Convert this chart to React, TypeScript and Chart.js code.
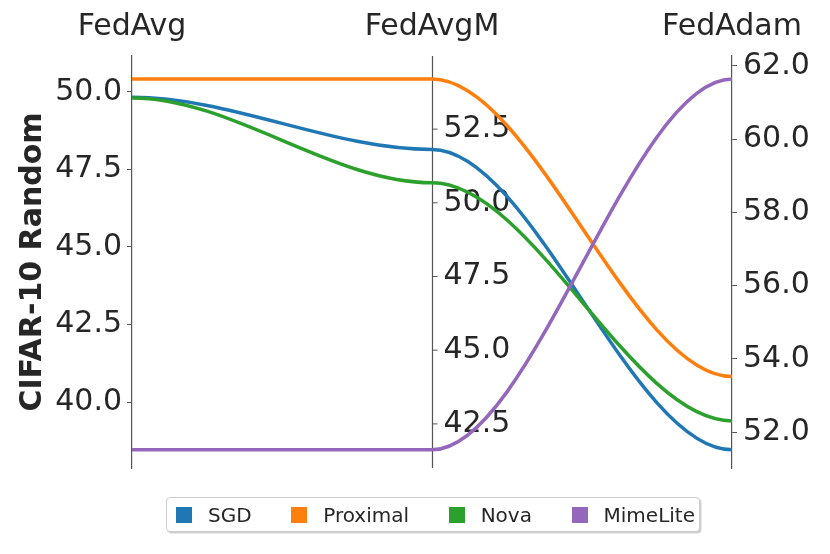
import React, { useEffect, useRef } from 'react';
import { Chart, registerables } from 'chart.js';

Chart.register(...registerables);

// ---- data ----
const axisNames = ['FedAvg', 'FedAvgM', 'FedAdam'];
const seriesNames = ['SGD', 'Proximal', 'Nova', 'MimeLite'];
const seriesColors = ['#1f77b4', '#ff7f0e', '#2ca02c', '#9467bd'];
const sgd = [49.82, 51.81, 51.52];
const proximal = [50.41, 54.2, 53.52];
const nova = [49.8, 50.68, 52.31];
const mimeLite = [38.46, 41.62, 61.64];
const tickSteps = [2.5, 2.5, 2.0];
const yLabel = 'CIFAR-10 Random';

const series = [sgd, proximal, nova, mimeLite];

// margins of each axis around its data range (fraction of range)
const PAD_LO = 0.049;
const PAD_HI = 0.062;

const FONT = '"DejaVu Sans", "Liberation Sans", sans-serif';
const TEXT_COLOR = '#262626';
const AXIS_COLOR = '#555555';

const axisMin = axisNames.map((_, k) => Math.min(...series.map((s) => s[k])));
const axisMax = axisNames.map((_, k) => Math.max(...series.map((s) => s[k])));
const axisRange = (k: number) => {
  const r = axisMax[k] - axisMin[k];
  return { min: axisMin[k] - PAD_LO * r, max: axisMax[k] + PAD_HI * r };
};
const norm = (v: number, k: number) => (v - axisMin[k]) / (axisMax[k] - axisMin[k]);

const stepTicks = (step: number) => (scale: any) => {
  const ticks: { value: number }[] = [];
  const start = Math.ceil(scale.min / step - 1e-9) * step;
  for (let v = start; v <= scale.max + 1e-9; v += step) {
    ticks.push({ value: +v.toFixed(6) });
  }
  scale.ticks = ticks;
};

const middleAxisPlugin = {
  id: 'middleAxis',
  beforeDatasetsDraw(chart: any) {
    const { ctx, chartArea } = chart;
    const s = chart.scales.yFedAvgM;
    const x = Math.round(chart.scales.x.getPixelForValue(1)) + 0.5;
    ctx.save();
    ctx.strokeStyle = AXIS_COLOR;
    ctx.lineWidth = 1.2;
    ctx.beginPath();
    ctx.moveTo(x, chartArea.top);
    ctx.lineTo(x, chartArea.bottom);
    ctx.stroke();
    ctx.lineWidth = 1;
    ctx.font = `30px ${FONT}`;
    ctx.fillStyle = TEXT_COLOR;
    ctx.textAlign = 'left';
    ctx.textBaseline = 'middle';
    for (const t of s.ticks) {
      const y = s.getPixelForValue(t.value);
      ctx.beginPath();
      ctx.moveTo(x, y);
      ctx.lineTo(x + 5, y);
      ctx.stroke();
      ctx.fillText(t.label, x + 11, y);
    }
    ctx.restore();
  },
};

// horizontal tangents at every axis (S-shaped links)
const parallelCurvePlugin = {
  id: 'parallelCurves',
  beforeDatasetsDraw(chart: any) {
    chart.getSortedVisibleDatasetMetas().forEach((meta: any) => {
      const line = meta.dataset;
      if (line && line.updateControlPoints) line.updateControlPoints(chart.chartArea, 'x');
      const pts = meta.data;
      for (let i = 0; i < pts.length; i++) {
        const p = pts[i];
        const prev = pts[i - 1];
        const next = pts[i + 1];
        p.cp1x = prev ? p.x - (p.x - prev.x) / 3 : p.x;
        p.cp1y = p.y;
        p.cp2x = next ? p.x + (next.x - p.x) / 3 : p.x;
        p.cp2y = p.y;
      }
      if (line) line._path = undefined;
    });
  },
};

export default function App() {
  const ref = useRef<HTMLCanvasElement | null>(null);

  useEffect(() => {
    if (!ref.current) return;
    Chart.defaults.font.family = FONT;
    Chart.defaults.color = TEXT_COLOR;

    const datasets = series.map((s, i) => ({
      label: seriesNames[i],
      data: s.map((v, k) => ({ x: k, y: norm(v, k) })),
      borderColor: seriesColors[i],
      backgroundColor: seriesColors[i],
      borderWidth: 3.5,
      pointRadius: 0,
      tension: 0.4,
      fill: false,
      yAxisID: 'yn',
      order: series.length - 1 - i,
    }));

    const r0 = axisRange(0);
    const r1 = axisRange(1);
    const r2 = axisRange(2);

    const chart = new Chart(ref.current, {
      type: 'line',
      data: { datasets },
      options: {
        animation: false,
        responsive: false,
        devicePixelRatio: 1,
        layout: { padding: { left: 0, right: 0, top: 0, bottom: 86 } },
        plugins: { legend: { display: false }, tooltip: { enabled: false } },
        scales: {
          x: {
            type: 'linear',
            position: 'top',
            min: 0,
            max: 2,
            grid: { display: false },
            border: { display: false },
            afterBuildTicks: stepTicks(1),
            afterFit: (s: any) => { s.height = 56; },
            ticks: {
              maxRotation: 0,
              autoSkip: false,
              padding: 3,
              font: { size: 30 },
              color: TEXT_COLOR,
              callback: (v: any) => axisNames[Math.round(Number(v))] ?? '',
            },
          },
          yn: {
            type: 'linear',
            axis: 'y',
            position: 'left',
            display: false,
            min: -PAD_LO,
            max: 1 + PAD_HI,
          },
          yFedAvg: {
            type: 'linear',
            axis: 'y',
            position: 'left',
            min: r0.min,
            max: r0.max,
            afterBuildTicks: stepTicks(tickSteps[0]),
            afterFit: (s: any) => { s.width = 132; },
            grid: { drawOnChartArea: false, drawTicks: true, tickLength: 5, color: AXIS_COLOR, tickWidth: 1 },
            border: { display: true, color: AXIS_COLOR, width: 1.2 },
            ticks: {
              padding: 5,
              font: { size: 30 },
              color: TEXT_COLOR,
              callback: (v: any) => Number(v).toFixed(1),
            },
            title: {
              display: true,
              text: yLabel,
              font: { size: 30, weight: 'bold' },
              color: TEXT_COLOR,
              padding: { top: 15, bottom: 0 },
            },
          },
          yFedAvgM: {
            type: 'linear',
            axis: 'y',
            position: 'left',
            display: false,
            min: r1.min,
            max: r1.max,
            afterBuildTicks: stepTicks(tickSteps[1]),
            ticks: { callback: (v: any) => Number(v).toFixed(1) },
          },
          yFedAdam: {
            type: 'linear',
            axis: 'y',
            position: 'right',
            min: r2.min,
            max: r2.max,
            afterBuildTicks: stepTicks(tickSteps[2]),
            afterFit: (s: any) => { s.width = 98; },
            grid: { drawOnChartArea: false, drawTicks: true, tickLength: 5, color: AXIS_COLOR, tickWidth: 1 },
            border: { display: true, color: AXIS_COLOR, width: 1.2 },
            ticks: {
              padding: 6,
              font: { size: 30 },
              color: TEXT_COLOR,
              callback: (v: any) => Number(v).toFixed(1),
            },
          },
        },
      } as any,
      plugins: [middleAxisPlugin, parallelCurvePlugin],
    });

    return () => chart.destroy();
  }, []);

  return (
    <div style={{ position: 'absolute', left: 0, top: 0, width: 830, height: 554, background: '#fff' }}>
      <canvas ref={ref} width={830} height={554} style={{ display: 'block' }} />
      <div
        style={{
          position: 'absolute',
          left: 166,
          top: 497,
          width: 534,
          height: 35,
          boxSizing: 'border-box',
          border: '1px solid #cccccc',
          borderRadius: 4,
          boxShadow: '1.5px 1.5px 0 rgba(0,0,0,0.18)',
          background: '#fff',
          display: 'flex',
          alignItems: 'center',
          justifyContent: 'space-between',
          padding: '0 4px 0 9px',
          fontFamily: FONT,
          fontSize: 20,
          color: TEXT_COLOR,
        }}
      >
        {seriesNames.map((n, i) => (
          <div key={n} style={{ display: 'flex', alignItems: 'center' }}>
            <span style={{ display: 'inline-block', width: 16, height: 16, background: seriesColors[i], marginRight: 16 }} />
            <span>{n}</span>
          </div>
        ))}
      </div>
    </div>
  );
}
